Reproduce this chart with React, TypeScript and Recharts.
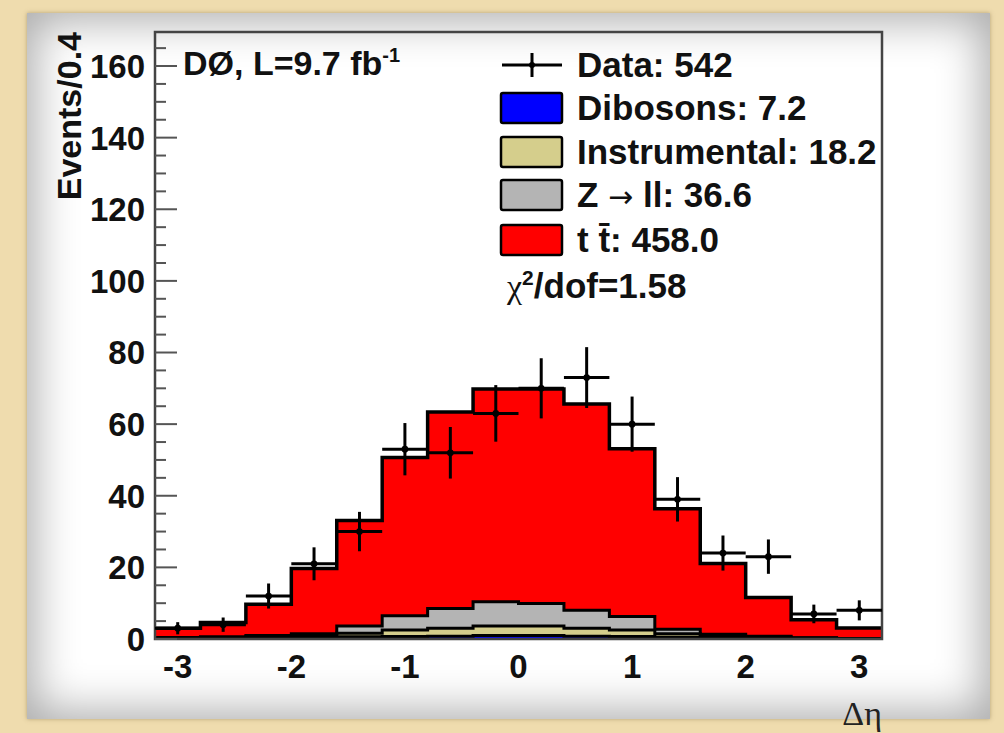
import React from 'react';
import { ComposedChart, Area, Scatter, XAxis, YAxis, ZAxis, ErrorBar, ReferenceArea } from 'recharts';

// Bin edges (Δη, width 0.4) and bin centers
const binEdges = [-3.2, -2.8, -2.4, -2.0, -1.6, -1.2, -0.8, -0.4, 0.0, 0.4, 0.8, 1.2, 1.6, 2.0, 2.4, 2.8, 3.2];
const binCenters = [-3.0, -2.6, -2.2, -1.8, -1.4, -1.0, -0.6, -0.2, 0.2, 0.6, 1.0, 1.4, 1.8, 2.2, 2.6, 3.0];
const binHalfWidth = 0.2;

// Stacked backgrounds (events per bin)
const dibosons = [0.1, 0.1, 0.2, 0.3, 0.6, 0.7, 0.8, 1.0, 1.0, 0.8, 0.7, 0.5, 0.2, 0.1, 0.05, 0.05];
const instrumental = [0.2, 0.3, 0.5, 0.7, 1.0, 1.8, 2.2, 2.6, 2.6, 2.2, 1.8, 1.0, 0.6, 0.4, 0.2, 0.1];
const zll = [0.1, 0.2, 0.3, 0.5, 2.0, 4.0, 5.5, 6.8, 6.3, 5.0, 3.8, 1.2, 0.5, 0.3, 0.1, 0.0];
const ttbar = [2.6, 4.0, 8.7, 18.2, 29.5, 44.2, 54.9, 59.4, 59.9, 57.6, 46.8, 33.7, 19.8, 10.8, 5.0, 2.9];

// Data
const dataCounts = [3, 4, 12, 21, 30, 53, 52, 63, 70, 73, 60, 39, 24, 23, 7, 8];
const dataErrors = [1.7, 2.0, 3.5, 4.6, 5.5, 7.3, 7.2, 7.9, 8.4, 8.5, 7.7, 6.2, 4.9, 4.8, 2.6, 2.8];

// Axis ticks
const xTicks = [-3, -2, -1, 0, 1, 2, 3];
const yMajorTicks = [0, 20, 40, 60, 80, 100, 120, 140, 160];
const yAllTicks = [0, 5, 10, 15, 20, 25, 30, 35, 40, 45, 50, 55, 60, 65, 70, 75, 80, 85, 90, 95, 100, 105, 110, 115, 120, 125, 130, 135, 140, 145, 150, 155, 160, 165];

// Legend
const legendNames = ['Dibosons', 'Instrumental', 'Z → ll', 't t̄'];
const legendTotals = ['7.2', '18.2', '36.6', '458.0'];
const legendColors = ['#0000ff', '#d5ce8c', '#b4b4b4', '#ff0000'];
const dataTotal = 542;
const chi2 = '1.58';

const histData = binEdges.map((x, i) => {
  const k = Math.min(i, dibosons.length - 1);
  return { x, dib: dibosons[k], ins: instrumental[k], z: zll[k], tt: ttbar[k] };
});
const pointData = binCenters.map((x, i) => ({ x, y: dataCounts[i], ey: dataErrors[i], ex: binHalfWidth }));

const FONT = '"Liberation Sans", Arial, Helvetica, sans-serif';
const SERIF = '"Liberation Serif", "DejaVu Serif", serif';

const YTick = (props: any) => {
  const { x, y, payload } = props;
  const v = payload.value;
  const major = yMajorTicks.indexOf(v) >= 0;
  const ax = x + 10;
  return (
    <g>
      <line x1={ax} x2={ax + (major ? 22 : 11)} y1={y} y2={y} stroke="#555" strokeWidth={2} />
      {major && (
        <text x={x} y={y} dy="0.36em" textAnchor="end" fontFamily={FONT} fontWeight="bold" fontSize={33} fill="#111">
          {v}
        </text>
      )}
    </g>
  );
};

const XTick = (props: any) => {
  const { x, y, payload } = props;
  return (
    <text x={x} y={y} dy="0.36em" textAnchor="middle" fontFamily={FONT} fontWeight="bold" fontSize={33} fill="#111">
      {String(payload.value)}
    </text>
  );
};

export default function App() {
  const rowY = [108, 152, 195, 240];
  return (
    <div style={{ position: 'absolute', left: 0, top: 0, width: 1004, height: 733, background: '#efdcae', overflow: 'hidden' }}>
      <div
        style={{
          position: 'absolute',
          left: 27,
          top: 13,
          width: 963,
          height: 706,
          background: '#ffffff',
          boxShadow: 'inset 0 0 44px 8px rgba(0,0,0,0.33), 0 0 4px rgba(120,100,60,0.5)',
        }}
      />
      <div style={{ position: 'absolute', left: 0, top: 0 }}>
        <ComposedChart width={1004} height={733} data={histData} margin={{ top: 32, right: 122, bottom: 54, left: 95 }}>
          <XAxis
            type="number"
            dataKey="x"
            domain={[-3.2, 3.2]}
            ticks={xTicks}
            tick={<XTick />}
            tickSize={0}
            tickMargin={27}
            axisLine={false}
            tickLine={false}
            interval={0}
            height={40}
            allowDataOverflow
          />
          <YAxis
            type="number"
            domain={[0, 169.5]}
            ticks={yAllTicks}
            tick={<YTick />}
            tickSize={0}
            tickMargin={10}
            axisLine={false}
            tickLine={false}
            interval={0}
            width={60}
            allowDataOverflow
          />
          <ZAxis range={[36, 36]} />
          <Area type="stepAfter" dataKey="dib" stackId="f" fill="#0000ff" fillOpacity={1} stroke="none" isAnimationActive={false} />
          <Area type="stepAfter" dataKey="ins" stackId="f" fill="#d5ce8c" fillOpacity={1} stroke="none" isAnimationActive={false} />
          <Area type="stepAfter" dataKey="z" stackId="f" fill="#b4b4b4" fillOpacity={1} stroke="none" isAnimationActive={false} />
          <Area type="stepAfter" dataKey="tt" stackId="f" fill="#ff0000" fillOpacity={1} stroke="none" isAnimationActive={false} />
          <Area type="stepAfter" dataKey="dib" stackId="o" fill="none" stroke="#000" strokeWidth={3} isAnimationActive={false} />
          <Area type="stepAfter" dataKey="ins" stackId="o" fill="none" stroke="#000" strokeWidth={3} isAnimationActive={false} />
          <Area type="stepAfter" dataKey="z" stackId="o" fill="none" stroke="#000" strokeWidth={3} isAnimationActive={false} />
          <Area type="stepAfter" dataKey="tt" stackId="o" fill="none" stroke="#000" strokeWidth={3.5} isAnimationActive={false} />
          <Scatter data={pointData} dataKey="y" fill="#000" isAnimationActive={false}>
            <ErrorBar dataKey="ey" direction="y" width={0} stroke="#000" strokeWidth={3} />
            <ErrorBar dataKey="ex" direction="x" width={0} stroke="#000" strokeWidth={3} />
          </Scatter>
          <ReferenceArea x1={-3.2} x2={3.2} y1={0} y2={169.5} fill="none" fillOpacity={0} stroke="#444" strokeWidth={2.5} ifOverflow="visible" />
        </ComposedChart>
      </div>
      <svg width={1004} height={733} style={{ position: 'absolute', left: 0, top: 0, pointerEvents: 'none' }}>
        <text transform="translate(81,32) rotate(-90)" textAnchor="end" fontFamily={FONT} fontWeight="bold" fontSize={34} fill="#111">
          Events/0.4
        </text>
        <text x={183} y={75} fontFamily={FONT} fontWeight="bold" fontSize={34} fill="#111">
          DØ, L=9.7 fb<tspan dy={-13} fontSize={20}>-1</tspan>
        </text>
        <text x={882} y={725} textAnchor="end" fontFamily={SERIF} fontSize={34} fill="#222">
          Δη
        </text>
        {/* Data legend entry */}
        <line x1={502} x2={562} y1={65} y2={65} stroke="#000" strokeWidth={3} />
        <line x1={532} x2={532} y1={53} y2={77} stroke="#000" strokeWidth={3} />
        <circle cx={532} cy={65} r={3} fill="#000" />
        <text x={577} y={77} fontFamily={FONT} fontWeight="bold" fontSize={35} fill="#111">
          Data: {dataTotal}
        </text>
        {legendNames.map((n, i) => (
          <g key={n}>
            <rect x={501} y={rowY[i] - 15} width={61} height={30} fill={legendColors[i]} stroke="#000" strokeWidth={2.5} rx={2} />
            <text x={577} y={rowY[i] + 12} fontFamily={FONT} fontWeight="bold" fontSize={35} fill="#111">
              {n === 'Z → ll' ? (
                <>
                  Z <tspan fontFamily='"DejaVu Sans", sans-serif' fontWeight="normal" fontSize={30}>→</tspan> ll: {legendTotals[i]}
                </>
              ) : (
                `${n}: ${legendTotals[i]}`
              )}
            </text>
          </g>
        ))}
        <text x={507} y={298} fontFamily={FONT} fontWeight="bold" fontSize={35} fill="#111">
          <tspan fontFamily={SERIF} fontWeight="normal" fontSize={34}>χ</tspan>
          <tspan dy={-13} fontSize={21}>2</tspan>
          <tspan dy={13}>/dof={chi2}</tspan>
        </text>
      </svg>
    </div>
  );
}
